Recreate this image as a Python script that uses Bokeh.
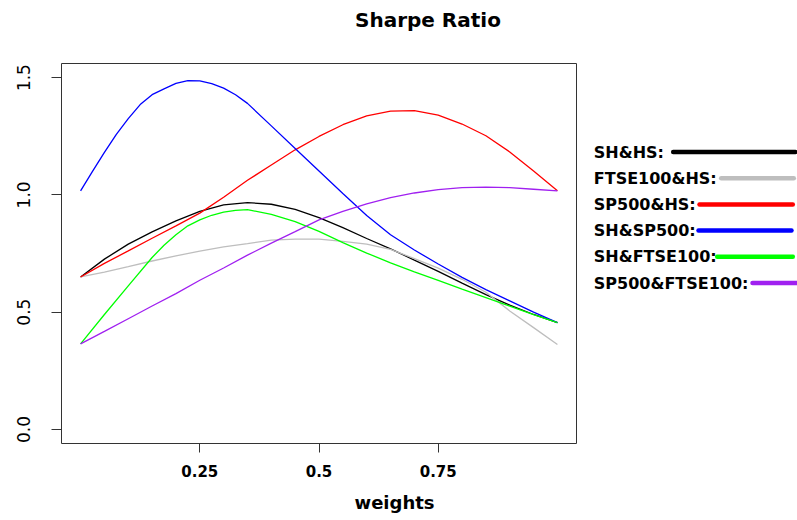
from bokeh.plotting import figure
from bokeh.models import Range1d, FixedTicker, Title
from bokeh.layouts import row
from bokeh.embed import file_html
from bokeh.resources import INLINE
from bokeh.core.properties import value

# ---- data ----
weights = [0.00, 0.05, 0.10, 0.15, 0.20, 0.25, 0.30, 0.35, 0.40, 0.45, 0.50,
           0.55, 0.60, 0.65, 0.70, 0.75, 0.80, 0.85, 0.90, 0.95, 1.00]
weights_sh_sp500 = [0.00, 0.025, 0.05, 0.075, 0.10, 0.125, 0.15, 0.175, 0.20, 0.225, 0.25,
                    0.275, 0.30, 0.325, 0.35, 0.40, 0.45, 0.50, 0.55, 0.60, 0.65, 0.70,
                    0.75, 0.80, 0.85, 0.90, 0.95, 1.00]
weights_sh_ftse100 = [0.00, 0.05, 0.10, 0.15, 0.175, 0.20, 0.225, 0.25, 0.275, 0.30, 0.325,
                      0.35, 0.40, 0.45, 0.50, 0.55, 0.60, 0.65, 0.70, 0.75, 0.80, 0.85,
                      0.90, 0.95, 1.00]

sh_hs = [0.650, 0.726, 0.790, 0.842, 0.889, 0.930, 0.957, 0.967, 0.960, 0.938, 0.903,
         0.860, 0.814, 0.770, 0.722, 0.674, 0.624, 0.575, 0.530, 0.490, 0.455]
ftse100_hs = [0.650, 0.671, 0.694, 0.718, 0.740, 0.760, 0.778, 0.792, 0.807, 0.811, 0.811,
              0.802, 0.790, 0.768, 0.728, 0.688, 0.640, 0.585, 0.505, 0.434, 0.362]
sp500_hs = [0.650, 0.708, 0.761, 0.815, 0.868, 0.922, 0.990, 1.062, 1.127, 1.192, 1.249,
            1.299, 1.337, 1.357, 1.359, 1.340, 1.302, 1.252, 1.183, 1.102, 1.017]
sh_sp500 = [1.017, 1.100, 1.181, 1.258, 1.325, 1.385, 1.427, 1.452, 1.475, 1.487, 1.486,
            1.474, 1.455, 1.427, 1.390, 1.294, 1.198, 1.102, 1.006, 0.912, 0.830, 0.765,
            0.705, 0.648, 0.596, 0.548, 0.500, 0.455]
sh_ftse100 = [0.365, 0.490, 0.612, 0.733, 0.785, 0.830, 0.868, 0.893, 0.913, 0.926, 0.934,
              0.937, 0.917, 0.886, 0.844, 0.796, 0.752, 0.710, 0.672, 0.635, 0.598, 0.562,
              0.526, 0.489, 0.455]
sp500_ftse100 = [0.365, 0.418, 0.472, 0.526, 0.579, 0.636, 0.688, 0.743, 0.794, 0.843, 0.893,
                 0.930, 0.962, 0.988, 1.008, 1.022, 1.031, 1.033, 1.031, 1.024, 1.017]

series_names = ["SH&HS:", "FTSE100&HS:", "SP500&HS:", "SH&SP500:", "SH&FTSE100:", "SP500&FTSE100:"]
series_x = [weights, weights, weights, weights_sh_sp500, weights_sh_ftse100, weights]
series_values = [sh_hs, ftse100_hs, sp500_hs, sh_sp500, sh_ftse100, sp500_ftse100]
series_colors = ["black", "#BEBEBE", "red", "blue", "#00FF00", "#A020F0"]

x_ticks = [0.25, 0.5, 0.75]
x_tick_labels = ["0.25", "0.5", "0.75"]
y_ticks = [0.0, 0.5, 1.0, 1.5]
y_tick_labels = ["0.0", "0.5", "1.0", "1.5"]

title_text = "Sharpe Ratio"
xlabel_text = "weights"

# ---- main plot ----
p = figure(width=588, height=520, output_backend="svg", toolbar_location=None, title=None,
           x_range=Range1d(-0.04, 1.04), y_range=Range1d(-0.06, 1.56),
           min_border_left=61, min_border_right=12, min_border_top=63, min_border_bottom=77)
p.grid.visible = False
p.outline_line_color = "#333333"
p.outline_line_width = 1
p.background_fill_color = "white"
p.border_fill_color = "white"

for xs, vals, col in zip(series_x, series_values, series_colors):
    p.line(xs, vals, line_color=col, line_width=1.3)

xa = p.xaxis[0]
xa.ticker = FixedTicker(ticks=x_ticks)
xa.major_label_overrides = {t: l for t, l in zip(x_ticks, x_tick_labels)}
xa.axis_line_color = None
xa.major_tick_out = 9
xa.major_tick_in = 0
xa.major_tick_line_color = "#333333"
xa.minor_tick_line_color = None
xa.major_label_text_font = "DejaVu Sans"
xa.major_label_text_font_style = "bold"
xa.major_label_text_font_size = "15px"
xa.major_label_text_color = "black"
xa.major_label_standoff = 12

ya = p.yaxis[0]
ya.ticker = FixedTicker(ticks=y_ticks)
ya.major_label_overrides = {t: l for t, l in zip(y_ticks, y_tick_labels)}
ya.axis_line_color = None
ya.major_tick_out = 10
ya.major_tick_in = 0
ya.major_tick_line_color = "#333333"
ya.minor_tick_line_color = None
ya.major_label_orientation = "vertical"
ya.major_label_text_font = "DejaVu Sans"
ya.major_label_text_font_size = "17px"
ya.major_label_text_color = "black"
ya.major_label_standoff = 21

# title: blank spacer panel next to the frame, then the real title further out
p.add_layout(Title(text=" ", text_font_size="1px", standoff=29), "above")
p.add_layout(Title(text=title_text, align="left", offset=293.5, standoff=0,
                   vertical_align="bottom", text_font="DejaVu Sans",
                   text_font_style="bold", text_font_size="20px", text_color="black"), "above")

# x label: blank spacer panel after the axis, then the label
p.add_layout(Title(text=" ", text_font_size="1px", standoff=9), "below")
p.add_layout(Title(text=xlabel_text, align="left", offset=293, standoff=0,
                   vertical_align="top", text_font="DejaVu Sans",
                   text_font_style="bold", text_font_size="18px", text_color="black"), "below")

# ---- legend panel (coordinates are page pixels) ----
leg = figure(width=209, height=520, output_backend="svg", toolbar_location=None,
             x_range=Range1d(588, 797), y_range=Range1d(443, 63),
             x_axis_location=None, y_axis_location=None,
             min_border_left=0, min_border_right=0, min_border_top=63, min_border_bottom=77)
leg.grid.visible = False
leg.outline_line_color = None
leg.background_fill_color = "white"
leg.border_fill_color = "white"

row_y = [151.5 + 26.2 * i for i in range(len(series_names))]
text_x = [593.3] * len(series_names)
line_x0 = [672.7, 720.7, 699.0, 698.0, 716.7, 752.0]
line_x1 = [795.0, 793.3, 792.3, 791.0, 792.3, 800.0]

leg.text(x=text_x, y=row_y, text=series_names, text_align="left", text_baseline="middle",
         text_font=value("DejaVu Sans"), text_font_style="bold", text_font_size="16px",
         text_color="black")
leg.segment(x0=line_x0, y0=row_y, x1=line_x1, y1=row_y, line_color=series_colors,
            line_width=4.5, line_cap="round")

layout = row(p, leg)
open("out.html", "w").write(file_html(layout, INLINE))
